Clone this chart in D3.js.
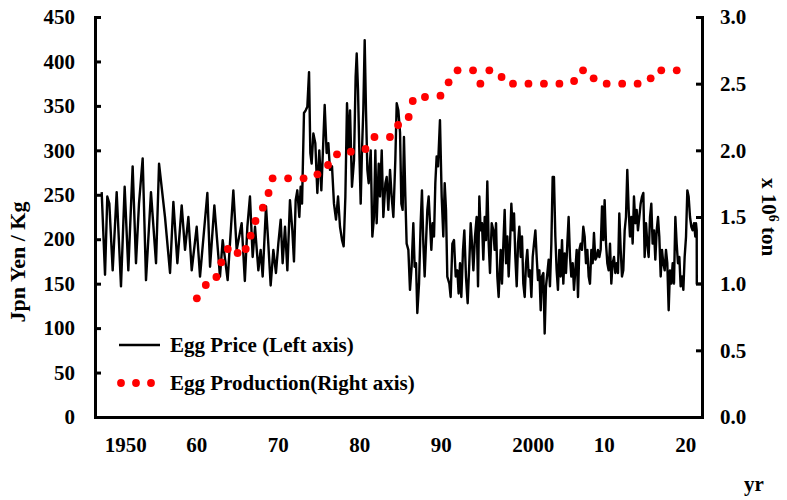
<!DOCTYPE html>
<html>
<head>
<meta charset="utf-8">
<script src="https://cdn.jsdelivr.net/npm/d3@7"></script>
<style>
  html, body { margin: 0; padding: 0; background: #fff; }
  svg text { font-family: "Liberation Serif", "Times New Roman", serif; font-weight: bold; fill: #000; }
</style>
</head>
<body>
<svg id="chart" width="787" height="500"></svg>
<script>
// ---- Data ----
// Egg price (Jpn Yen / Kg), sampled through the monthly series
const priceYears = [
  1948.32,1948.73,1949.01,1949.26,1949.67,1950.16,1950.69,1951.14,1951.59,1952.12,1952.53,1952.90,
  1953.35,1953.76,1954.37,1954.99,1955.36,1956.09,1956.71,1957.12,1957.61,1958.14,1958.55,1958.96,
  1959.37,1959.98,1960.39,1961.29,1961.62,1962.15,1962.84,1963.17,1963.78,1964.48,1964.89,1965.50,
  1965.89,1966.20,1966.52,1966.85,1967.14,1967.55,1967.83,1968.08,1968.49,1968.77,1969.06,1969.39,
  1969.71,1970.00,1970.29,1970.53,1970.82,1971.11,1971.43,1971.72,1971.92,1972.13,1972.33,1972.58,
  1972.74,1972.91,1973.15,1973.36,1973.56,1973.77,1973.93,1974.09,1974.30,1974.54,1974.79,1975.03,
  1975.28,1975.53,1975.69,1975.93,1976.14,1976.34,1976.59,1976.83,1977.08,1977.33,1977.57,1977.82,
  1978.02,1978.23,1978.43,1978.63,1978.80,1979.04,1979.29,1979.49,1979.62,1979.78,1979.94,1980.11,
  1980.27,1980.43,1980.60,1980.76,1980.93,1981.09,1981.34,1981.54,1981.74,1981.91,1982.07,1982.32,
  1982.48,1982.69,1982.89,1983.14,1983.30,1983.50,1983.71,1983.91,1984.12,1984.36,1984.53,1984.73,
  1984.94,1985.10,1985.26,1985.42,1985.59,1985.75,1985.96,1986.16,1986.36,1986.57,1986.73,1986.90,
  1987.06,1987.27,1987.47,1987.63,1987.80,1987.96,1988.12,1988.29,1988.45,1988.62,1988.78,1988.94,
  1989.11,1989.27,1989.43,1989.60,1989.84,1990.05,1990.25,1990.42,1990.58,1990.74,1990.99,1991.15,
  1991.36,1991.56,1991.77,1991.97,1992.13,1992.30,1992.46,1992.67,1992.83,1993.03,1993.24,1993.44,
  1993.61,1993.77,1993.94,1994.14,1994.34,1994.51,1994.67,1994.83,1995.00,1995.16,1995.33,1995.49,
  1995.65,1995.82,1995.98,1996.19,1996.39,1996.55,1996.72,1996.88,1997.04,1997.29,1997.45,1997.62,
  1997.78,1997.95,1998.11,1998.27,1998.44,1998.60,1998.76,1998.93,1999.09,1999.26,1999.42,1999.58,
  1999.75,1999.91,2000.07,2000.24,2000.40,2000.56,2000.73,2000.89,2001.06,2001.22,2001.38,2001.55,
  2001.71,2001.87,2002.04,2002.20,2002.36,2002.53,2002.69,2002.85,2003.02,2003.18,2003.34,2003.51,
  2003.67,2003.83,2004.00,2004.16,2004.32,2004.49,2004.65,2004.82,2004.98,2005.14,2005.31,2005.47,
  2005.63,2005.80,2005.96,2006.13,2006.29,2006.45,2006.62,2006.78,2006.94,2007.11,2007.27,2007.43,
  2007.60,2007.76,2007.93,2008.09,2008.25,2008.42,2008.58,2008.74,2008.91,2009.07,2009.23,2009.40,
  2009.56,2009.73,2009.89,2010.05,2010.22,2010.38,2010.54,2010.71,2010.87,2011.03,2011.20,2011.36,
  2011.53,2011.69,2011.85,2012.02,2012.18,2012.34,2012.51,2012.67,2012.83,2013.00,2013.16,2013.33,
  2013.49,2013.65,2013.82,2013.98,2014.14,2014.31,2014.47,2014.64,2014.80,2014.96,2015.13,2015.29,
  2015.45,2015.62,2015.78,2015.94,2016.11,2016.27,2016.44,2016.60,2016.76,2016.93,2017.09,2017.25,
  2017.42,2017.58,2017.74,2017.91,2018.07,2018.24,2018.40,2018.56,2018.73,2018.89,2019.05,2019.22,
  2019.38,2019.55,2019.71,2019.87,2020.04,2020.20,2020.36,2020.53,2020.69,2020.85,2021.02,2021.18,
  2021.26,2021.35,2021.36,2022.00
];
const priceValues = [
  253,160,248,240,165,253,147,259,165,282,173,240,
  291,154,253,173,285,225,162,242,173,238,188,225,
  165,214,158,252,169,238,158,199,154,255,188,218,
  153,214,248,180,214,165,188,158,237,195,148,188,
  162,195,222,173,214,165,244,210,175,244,255,225,
  259,240,342,345,349,388,297,285,319,308,252,300,
  255,312,351,297,308,278,282,240,222,248,214,199,
  192,248,353,300,345,259,289,383,409,368,300,240,
  300,345,424,345,278,263,300,203,225,300,218,285,
  248,300,225,263,270,233,278,248,225,289,353,345,
  320,240,233,315,248,195,188,143,169,218,169,173,
  117,150,218,255,195,158,195,233,248,218,188,218,
  203,263,293,282,334,248,203,263,233,158,150,135,
  195,199,158,165,139,173,135,188,210,158,128,173,
  218,195,165,203,225,147,248,210,218,177,225,199,
  265,195,162,218,210,188,218,158,135,188,150,195,
  233,173,203,158,195,240,210,229,180,147,195,214,
  180,203,150,135,173,188,158,165,135,180,195,210,
  180,154,165,120,158,162,94,147,162,177,147,195,
  270,270,203,165,143,188,158,199,150,184,162,195,
  225,180,158,173,143,165,188,135,188,195,188,214,
  203,173,188,158,150,188,173,207,177,180,188,180,
  188,237,199,244,195,173,165,195,150,173,180,162,
  173,162,229,188,158,165,210,225,278,233,203,225,
  195,248,218,233,210,225,240,248,252,180,218,195,
  180,225,240,195,210,177,210,225,203,158,188,173,
  165,188,173,120,165,150,173,150,225,195,173,180,
  147,158,143,180,203,255,248,225,214,210,218,203,
  218,210,150,150
];

// Egg production (x 10^6 ton)
const prodYears = [
  1960,1961.1,1962.4,1963,1963.8,1965,1966,1966.6,1967.2,1968.1,1968.8,1969.3,
  1971.2,1973.1,1974.8,1976.1,1977.2,1978.9,1980.7,1981.8,1983.7,1984.7,1986,1986.5,
  1988,1989.9,1990.9,1992,1993.9,1994.8,1995.9,1997.4,1998.8,2000.7,2002.6,2004.5,
  2006.3,2007.4,2008.7,2010.3,2012.2,2014.1,2015.7,2017,2018.9
];
const prodValues = [
  0.89,0.99,1.05,1.16,1.26,1.23,1.26,1.36,1.47,1.57,1.68,1.79,
  1.79,1.79,1.82,1.89,1.97,1.99,2.01,2.10,2.10,2.19,2.25,2.37,
  2.40,2.41,2.51,2.60,2.60,2.50,2.60,2.55,2.50,2.50,2.50,2.50,
  2.52,2.60,2.54,2.50,2.50,2.50,2.54,2.60,2.60
];

const xTicks = [1950, 1960, 1970, 1980, 1990, 2000, 2010, 2020];
const xTickLabels = ["1950", "60", "70", "80", "90", "2000", "10", "20"];
const leftTicks = [0, 50, 100, 150, 200, 250, 300, 350, 400, 450];
const rightTicks = [0, 0.5, 1.0, 1.5, 2.0, 2.5, 3.0];

const leftTitle = "Jpn Yen / Kg";
const xTitle = "yr";
const legendLabels = ["Egg Price (Left axis)", "Egg Production(Right axis)"];

// ---- Chart ----
const svg = d3.select("#chart");
const plot = { left: 95, right: 702, top: 17, bottom: 417 };

const x = d3.scaleLinear().domain([1947.5, 2022]).range([plot.left, plot.right]);
const yL = d3.scaleLinear().domain([0, 450]).range([plot.bottom, plot.top]);
const yR = d3.scaleLinear().domain([0, 3]).range([plot.bottom, plot.top]);

const FS = 21;

// price line
const priceData = priceYears.map((d, i) => [d, priceValues[i]]);
svg.append("path")
  .datum(priceData)
  .attr("fill", "none")
  .attr("stroke", "#000")
  .attr("stroke-width", 2.4)
  .attr("stroke-linejoin", "round")
  .attr("d", d3.line().x(d => x(d[0])).y(d => yL(d[1])));

// production dots
const prodData = prodYears.map((d, i) => [d, prodValues[i]]);
svg.append("g").selectAll("circle")
  .data(prodData)
  .join("circle")
  .attr("cx", d => x(d[0]))
  .attr("cy", d => yR(d[1]))
  .attr("r", 3.9)
  .attr("fill", "#ff0000");

// axes
function styleAxis(g) {
  g.select(".domain").attr("stroke", "#000").attr("stroke-width", 3).attr("stroke-linecap", "square");
  g.selectAll(".tick line").attr("stroke", "#000").attr("stroke-width", 3);
  g.selectAll(".tick text").style("font-size", FS + "px").style("font-family", "'Liberation Serif', 'Times New Roman', serif").style("font-weight", "bold");
}

const gL = svg.append("g").attr("transform", `translate(${plot.left},0)`)
  .call(d3.axisLeft(yL).tickValues(leftTicks).tickFormat(d3.format("d")).tickSizeInner(-6).tickSizeOuter(0).tickPadding(20));
styleAxis(gL);

const gR = svg.append("g").attr("transform", `translate(${plot.right},0)`)
  .call(d3.axisRight(yR).tickValues(rightTicks).tickFormat(d3.format(".1f")).tickSizeInner(-6).tickSizeOuter(0).tickPadding(18));
styleAxis(gR);

const gB = svg.append("g").attr("transform", `translate(0,${plot.bottom})`)
  .call(d3.axisBottom(x).tickValues(xTicks).tickFormat((d, i) => xTickLabels[i]).tickSize(0).tickPadding(20));
styleAxis(gB);
gB.selectAll(".tick text").attr("text-anchor", "start").attr("dx", -11);

// axis titles
svg.append("text")
  .attr("transform", "translate(25,262) rotate(-90)")
  .attr("text-anchor", "middle")
  .style("font-size", "22px")
  .text(leftTitle);

const rt = svg.append("text")
  .attr("transform", "translate(762,217) rotate(90)")
  .attr("text-anchor", "middle")
  .style("font-size", FS + "px");
rt.append("tspan").text("x 10");
rt.append("tspan").attr("baseline-shift", "super").style("font-size", "14px").text("6");
rt.append("tspan").text(" ton");

svg.append("text")
  .attr("x", 754).attr("y", 491)
  .attr("text-anchor", "middle")
  .style("font-size", FS + "px")
  .text(xTitle);

// legend
const lg = svg.append("g");
lg.append("line").attr("x1", 119).attr("x2", 160).attr("y1", 345).attr("y2", 345)
  .attr("stroke", "#000").attr("stroke-width", 2.4);
lg.append("text").attr("x", 170).attr("y", 352).style("font-size", FS + "px").text(legendLabels[0]);
lg.selectAll("circle").data([121, 136, 151]).join("circle")
  .attr("cx", d => d).attr("cy", 383).attr("r", 3.9).attr("fill", "#ff0000");
lg.append("text").attr("x", 170).attr("y", 390).style("font-size", FS + "px").text(legendLabels[1]);
</script>
</body>
</html>
